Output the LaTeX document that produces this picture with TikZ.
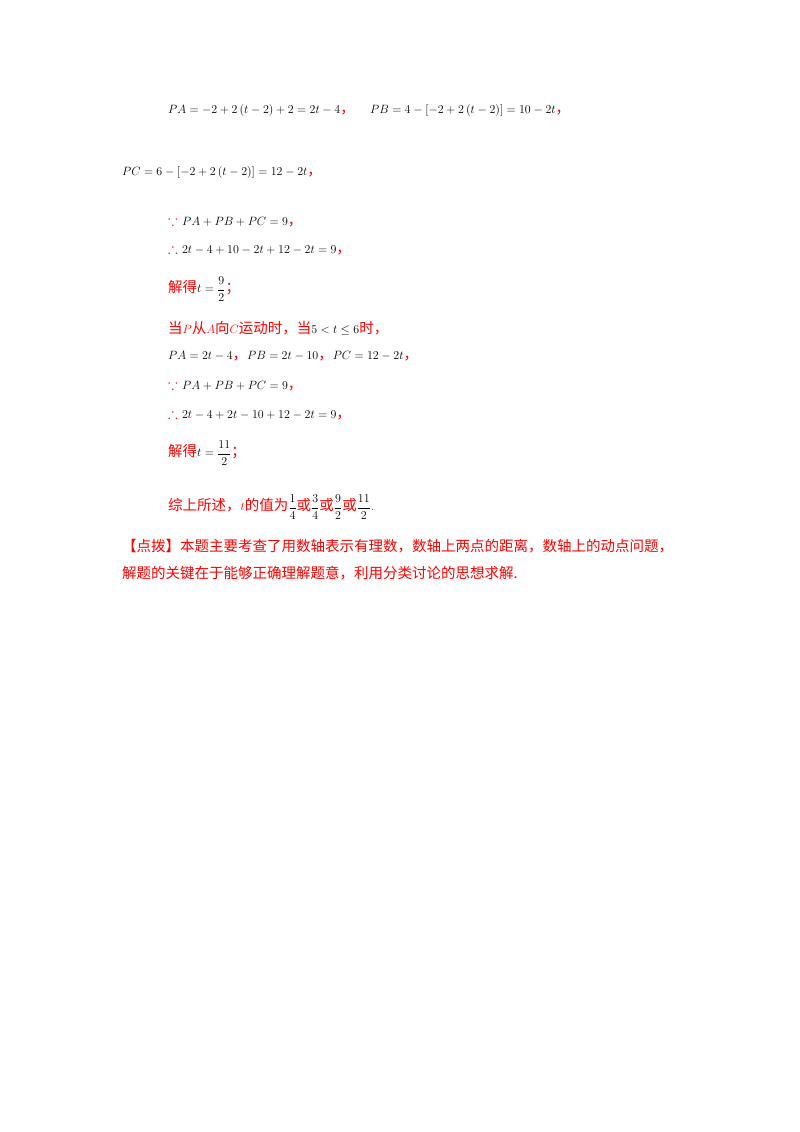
\documentclass[tikz,border=0pt]{standalone}
\usepackage{amsmath}
\usepackage{amssymb}
\usepackage{fontspec}
\newfontfamily\cjk{Noto Sans CJK SC}
\begin{document}
\begin{tikzpicture}[x=1pt,y=-1pt,
  ln/.style={anchor=west,inner sep=0pt,font=\fontsize{13}{15}\selectfont}]
\useasboundingbox (0,0) rectangle (800,1132);
\newcommand\R[1]{\textcolor{red}{\cjk\fontsize{14.5}{16}\selectfont #1}}
\node[ln] (l1) at (168,110) {$PA=-2+2\left(t-2\right)+2=2t-4$\R{，}};
\node[ln] (l1b) at (370,110) {$PB=4-\left[-2+2\left(t-2\right)\right]=10-2t$\R{，}};
\node[ln] (l2) at (122,172) {$PC=6-\left[-2+2\left(t-2\right)\right]=12-2t$\R{，}};
\node[ln] (l3) at (168,221) {\R{$\because$} $PA+PB+PC=9$\R{，}};
\node[ln] (l4) at (168,249) {\R{$\therefore$} $2t-4+10-2t+12-2t=9$\R{，}};
\node[ln] (l5) at (168,289) {\R{解得}$t=\dfrac{9}{2}$\R{；}};
\node[ln] (l6) at (168,328) {\R{当}\textcolor{red}{$P$}\R{从}\textcolor{red}{$A$}\R{向}\textcolor{red}{$C$}\R{运动时，当}$5<t\le 6$\R{时，}};
\node[ln] (l7) at (168,356) {$PA=2t-4$\R{，}$PB=2t-10$\R{，}$PC=12-2t$\R{，}};
\node[ln] (l8) at (168,385) {\R{$\because$} $PA+PB+PC=9$\R{，}};
\node[ln] (l9) at (168,414) {\R{$\therefore$} $2t-4+2t-10+12-2t=9$\R{，}};
\node[ln] (l10) at (168,453) {\R{解得}$t=\dfrac{11}{2}$\R{；}};
\node[ln] (l11) at (168,507) {\R{综上所述，}\textcolor{red}{$t$}\R{的值为}$\dfrac{1}{4}$\R{或}$\dfrac{3}{4}$\R{或}$\dfrac{9}{2}$\R{或}$\dfrac{11}{2}$\textcolor{red}{.}};
\node[ln] (l12) at (122,546) {\R{【点拨】本题主要考查了用数轴表示有理数，数轴上两点的距离，数轴上的动点问题，}};
\node[ln] (l13) at (122,573) {\R{解题的关键在于能够正确理解题意，利用分类讨论的思想求解.}};
\end{tikzpicture}
\end{document}
